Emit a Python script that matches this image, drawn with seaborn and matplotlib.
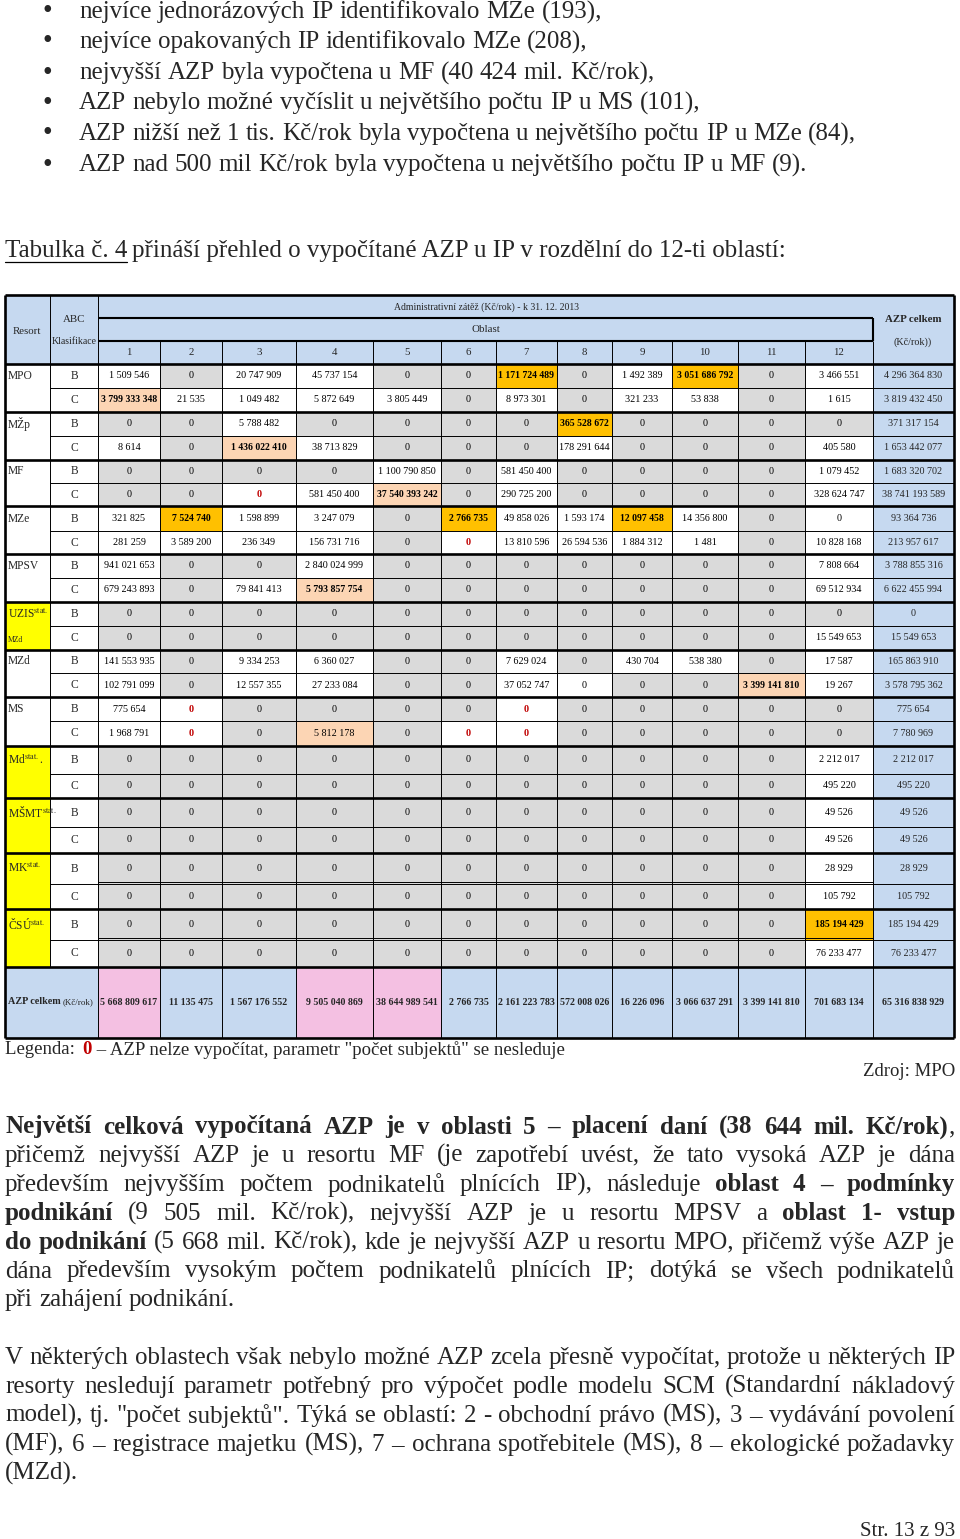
import numpy as np
import matplotlib.pyplot as plt
import seaborn as sns
from matplotlib.colors import ListedColormap
from matplotlib.lines import Line2D

sns.set_style("white")
plt.rcParams["font.family"] = ["Liberation Serif", "DejaVu Serif"]
plt.rcParams["mathtext.fontset"] = "stix"

W, H = 960, 1539

# %% data
resorts = ["MPO", "MŽp", "MF", "MZe", "MPSV", "UZIS", "MZd", "MS", "Md", "MŠMT", "MK", "ČSÚ"]
stat_resorts = ["UZIS", "Md", "MŠMT", "MK", "ČSÚ"]
klasifikace = ["B", "C"]
oblasti = ["1", "2", "3", "4", "5", "6", "7", "8", "9", "10", "11", "12"]

# AZP (Kč/rok), rows = B and C of every resort, columns = oblast 1..12
azp_values = [
    [1509546, 0, 20747909, 45737154, 0, 0, 1171724489, 0, 1492389, 3051686792, 0, 3466551],
    [3799333348, 21535, 1049482, 5872649, 3805449, 0, 8973301, 0, 321233, 53838, 0, 1615],
    [0, 0, 5788482, 0, 0, 0, 0, 365528672, 0, 0, 0, 0],
    [8614, 0, 1436022410, 38713829, 0, 0, 0, 178291644, 0, 0, 0, 405580],
    [0, 0, 0, 0, 1100790850, 0, 581450400, 0, 0, 0, 0, 1079452],
    [0, 0, 0, 581450400, 37540393242, 0, 290725200, 0, 0, 0, 0, 328624747],
    [321825, 7524740, 1598899, 3247079, 0, 2766735, 49858026, 1593174, 12097458, 14356800, 0, 0],
    [281259, 3589200, 236349, 156731716, 0, 0, 13810596, 26594536, 1884312, 1481, 0, 10828168],
    [941021653, 0, 0, 2840024999, 0, 0, 0, 0, 0, 0, 0, 7808664],
    [679243893, 0, 79841413, 5793857754, 0, 0, 0, 0, 0, 0, 0, 69512934],
    [0, 0, 0, 0, 0, 0, 0, 0, 0, 0, 0, 0],
    [0, 0, 0, 0, 0, 0, 0, 0, 0, 0, 0, 15549653],
    [141553935, 0, 9334253, 6360027, 0, 0, 7629024, 0, 430704, 538380, 0, 17587],
    [102791099, 0, 12557355, 27233084, 0, 0, 37052747, 0, 0, 0, 3399141810, 19267],
    [775654, 0, 0, 0, 0, 0, 0, 0, 0, 0, 0, 0],
    [1968791, 0, 0, 5812178, 0, 0, 0, 0, 0, 0, 0, 0],
    [0, 0, 0, 0, 0, 0, 0, 0, 0, 0, 0, 2212017],
    [0, 0, 0, 0, 0, 0, 0, 0, 0, 0, 0, 495220],
    [0, 0, 0, 0, 0, 0, 0, 0, 0, 0, 0, 49526],
    [0, 0, 0, 0, 0, 0, 0, 0, 0, 0, 0, 49526],
    [0, 0, 0, 0, 0, 0, 0, 0, 0, 0, 0, 28929],
    [0, 0, 0, 0, 0, 0, 0, 0, 0, 0, 0, 105792],
    [0, 0, 0, 0, 0, 0, 0, 0, 0, 0, 0, 185194429],
    [0, 0, 0, 0, 0, 0, 0, 0, 0, 0, 0, 76233477],
]
azp_row_totals = [4296364830, 3819432450, 371317154, 1653442077, 1683320702, 38741193589,
                  93364736, 213957617, 3788855316, 6622455994, 0, 15549653,
                  165863910, 3578795362, 775654, 7780969, 2212017, 495220,
                  49526, 49526, 28929, 105792, 185194429, 76233477]
azp_oblast_totals = [5668809617, 11135475, 1567176552, 9505040869, 38644989541, 2766735,
                     2161223783, 572008026, 16226096, 3066637291, 3399141810, 701683134]
azp_grand_total = 65316838929

# highlighted cells (row, oblast index)
gold_cells = [(0, 6), (0, 9), (2, 7), (6, 1), (6, 5), (6, 8), (22, 11)]
peach_bold_cells = [(1, 0), (3, 2), (5, 4), (9, 3), (13, 10)]
peach_cells = [(15, 3)]
red_zero_cells = [(5, 2), (7, 5), (14, 1), (14, 6), (15, 1), (15, 5), (15, 6)]
white_zero_cells = [(6, 11), (13, 7)]
pink_oblasti = [0, 3, 4]

# %% colour codes for the heatmap
palette = ["#ffffff", "#dadada", "#ffc000", "#fcd5b4", "#c6d9f0", "#ffff00", "#f4c0e2"]
n_body = len(azp_values)
codes = np.zeros((3 + n_body + 1, 15))
codes[:3, :] = 4
for r in range(n_body):
    res = resorts[r // 2]
    codes[3 + r, 0] = 5 if res in stat_resorts else 0
    codes[3 + r, 1] = 0
    for c, v in enumerate(azp_values[r]):
        code = 0 if v != 0 else 1
        if (r, c) in red_zero_cells or (r, c) in white_zero_cells:
            code = 0
        if (r, c) in gold_cells:
            code = 2
        if (r, c) in peach_bold_cells or (r, c) in peach_cells:
            code = 3
        codes[3 + r, 2 + c] = code
    codes[3 + r, 14] = 4
codes[-1, :] = 4
for c in pink_oblasti:
    codes[-1, 2 + c] = 6


def fmt(v):
    return f"{v:,}".replace(",", " ")


def fx(px):
    return px / W


def fy(py):
    return 1 - py / H


col_edges = [5, 50, 98, 160, 222, 296, 373, 441, 496, 557, 612, 672, 738, 805, 873, 954]
row_edges = [295, 318, 341, 364, 388, 412, 436, 460, 483, 506, 531, 554, 578, 602, 626,
             650, 673, 697, 721, 746, 774, 798, 827, 853, 884, 909, 940, 967, 1038]
xi = np.arange(len(col_edges))
yi = np.arange(len(row_edges))

fig = plt.figure(figsize=(9.6, 15.39), dpi=100)
ax = fig.add_axes([fx(col_edges[0]), fy(row_edges[-1]),
                   (col_edges[-1] - col_edges[0]) / W, (row_edges[-1] - row_edges[0]) / H])
ax.set_xscale("function", functions=(lambda v: np.interp(v, xi, col_edges),
                                     lambda p: np.interp(p, col_edges, xi)))
ax.set_yscale("function", functions=(lambda v: np.interp(v, yi, row_edges),
                                     lambda p: np.interp(p, row_edges, yi)))
sns.heatmap(codes, cmap=ListedColormap(palette), vmin=-0.5, vmax=len(palette) - 0.5,
            cbar=False, xticklabels=False, yticklabels=False, linewidths=0, ax=ax)
ax.set_xlim(0, 15)
ax.set_ylim(len(row_edges) - 1, 0)

# %% grid lines
thin, thick = 0.7, 1.9
kw = dict(colors="black", clip_on=False)
nr = len(row_edges) - 1
# header
ax.vlines([1, 2], 0, 3, lw=thin, **kw)
ax.hlines([1, 2], 2, 14, lw=thick * 0.8, **kw)
ax.vlines(14, 1, 2, lw=thick * 0.8, **kw)
ax.vlines(range(3, 15), 2, 3, lw=thin, **kw)
# body
ax.vlines(range(1, 15), 3, nr - 1, lw=thin, **kw)
for r in range(n_body):
    y = 3 + r
    if r % 2 == 0:
        ax.hlines(y, 0, 15, lw=thick, **kw)
    else:
        ax.hlines(y, 1, 15, lw=thin, **kw)
for r in [21, 23]:
    ax.hlines(3 + r - 0.08, 2, 14, lw=thin, **kw)
ax.hlines(nr - 1, 0, 15, lw=thick, **kw)
ax.vlines(range(2, 15), nr - 1, nr, lw=thin, **kw)
# outer frame
ax.hlines([0, nr], 0, 15, lw=thick, **kw)
ax.vlines([0, 15], 0, nr, lw=thick, **kw)

# %% header text
fs_head = 7.8
fig.text(fx(27), fy(331), "Resort", fontsize=fs_head, ha="center", va="center")
fig.text(fx(74), fy(319), "ABC", fontsize=fs_head, ha="center", va="center")
fig.text(fx(74), fy(342), "Klasifikace", fontsize=7, ha="center", va="center")
fig.text(fx(486), fy(307), "Administrativní zátěž (Kč/rok) - k 31. 12. 2013", fontsize=7,
         ha="center", va="center")
fig.text(fx(486), fy(330), "Oblast", fontsize=fs_head, ha="center", va="center")
fig.text(fx(913), fy(320), "AZP celkem", fontsize=7.8, fontweight="bold", ha="center", va="center")
fig.text(fx(913), fy(342), "(Kč/rok))", fontsize=7.3, ha="center", va="center")
for c, lab in enumerate(oblasti):
    ax.text(2 + c + 0.5, 2.5, lab, fontsize=fs_head, ha="center", va="center")

# %% body text
fs_num = 7.3
for r in range(n_body):
    y = 3 + r + 0.5
    res = resorts[r // 2]
    if r % 2 == 0:
        lab = res + r"$^{\mathrm{stat.}}$" if res in stat_resorts else res
        if res == "Md":
            lab += "."
        ax.text(0.06, y, lab, fontsize=8.3, ha="left", va="center")
    elif res == "UZIS":
        ax.text(0.06, y + 0.1, "MZd", fontsize=5.5, ha="left", va="center")
    ax.text(1.5, y, klasifikace[r % 2], fontsize=8.3, ha="center", va="center")
    for c, v in enumerate(azp_values[r]):
        bold = (r, c) in gold_cells or (r, c) in peach_bold_cells
        red = (r, c) in red_zero_cells
        ax.text(2 + c + 0.5, y, fmt(v), fontsize=7 if bold else fs_num, ha="center", va="center",
                fontweight="bold" if (bold or red) else "normal",
                color="#c00000" if red else "black")
    ax.text(14.5, y, fmt(azp_row_totals[r]), fontsize=fs_num, ha="center", va="center")

yt = nr - 0.5
fig.text(fx(61), fy(1002), "AZP celkem", fontsize=7.3, fontweight="bold", ha="right", va="center")
fig.text(fx(63), fy(1002), "(Kč/rok)", fontsize=6.5, ha="left", va="center")
for c, v in enumerate(azp_oblast_totals):
    ax.text(2 + c + 0.5, yt, fmt(v), fontsize=7.1, fontweight="bold", ha="center", va="center")
ax.text(14.5, yt, fmt(azp_grand_total), fontsize=7.1, fontweight="bold", ha="center", va="center")

# %% page text
renderer = fig.canvas.get_renderer()
body_fs = 18


def parse(line):
    words, bold = [], False
    for raw in line.split(" "):
        pieces, buf = [], ""
        for ch in raw:
            if ch == "*":
                if buf:
                    pieces.append((buf, bold))
                buf, bold = "", not bold
            else:
                buf += ch
        if buf:
            pieces.append((buf, bold))
        if pieces:
            words.append(pieces)
    return words


def write_line(line, y, x0=5, x1=955, size=body_fs, justify=True):
    words = parse(line)
    placed, widths = [], []
    for w in words:
        parts = []
        for text, b in w:
            t = fig.text(0, fy(y), text, fontsize=size, va="center", ha="left",
                         fontweight="bold" if b else "normal")
            parts.append((t, t.get_window_extent(renderer).width))
        placed.append(parts)
        widths.append(sum(p[1] for p in parts))
    gap = size * 100 / 72 * 0.25
    if justify and len(words) > 1:
        gap = max((x1 - x0 - sum(widths)) / (len(words) - 1), gap * 0.5)
    x = x0
    for parts in placed:
        for t, wd in parts:
            t.set_x(fx(x))
            x += wd
        x += gap


bullets = [
    "nejvíce jednorázových IP identifikovalo MZe (193),",
    "nejvíce opakovaných IP identifikovalo MZe (208),",
    "nejvyšší AZP byla vypočtena u MF (40 424 mil. Kč/rok),",
    "AZP nebylo možné vyčíslit u největšího počtu IP u MS (101),",
    "AZP nižší než 1 tis. Kč/rok byla vypočtena u největšího počtu IP u MZe (84),",
    "AZP nad 500 mil Kč/rok byla vypočtena u největšího počtu IP u MF (9).",
]
bullet_y = [12, 42, 73, 103, 134, 165]
for b, yb in zip(bullets, bullet_y):
    fig.text(fx(47), fy(yb), "•", fontsize=20, ha="center", va="center")
    write_line(b, yb, x0=79, justify=False)

t1 = fig.text(fx(5), fy(251), "Tabulka č. 4", fontsize=body_fs, ha="left", va="center")
w1 = t1.get_window_extent(renderer).width
fig.text(fx(5 + w1 + 5), fy(251), "přináší přehled o vypočítané AZP u IP v rozdělní do 12-ti oblastí:",
         fontsize=body_fs, ha="left", va="center")
fig.add_artist(Line2D([fx(5), fx(5 + w1)], [fy(262), fy(262)], color="black", lw=0.9))

# legend + source
leg_fs = 13.5
tl = fig.text(fx(5), fy(1050), "Legenda: ", fontsize=leg_fs, ha="left", va="center")
wl = tl.get_window_extent(renderer).width
tz = fig.text(fx(5 + wl + 3), fy(1050), "0", fontsize=leg_fs, fontweight="bold", color="#c00000",
              ha="left", va="center")
wz = tz.get_window_extent(renderer).width
fig.text(fx(5 + wl + 3 + wz), fy(1050), ' – AZP nelze vypočítat, parametr "počet subjektů" se nesleduje',
         fontsize=leg_fs, ha="left", va="center")
fig.text(fx(955), fy(1072), "Zdroj: MPO", fontsize=leg_fs, ha="right", va="center")

para1 = [
    "*Největší celková vypočítaná AZP je v oblasti 5 – placení daní (38 644 mil. Kč/rok)*,",
    "přičemž nejvyšší AZP je u resortu MF (je zapotřebí uvést, že tato vysoká AZP je dána",
    "především nejvyšším počtem podnikatelů plnících IP), následuje *oblast 4 – podmínky*",
    "*podnikání* (9 505 mil. Kč/rok), nejvyšší AZP je u resortu MPSV a *oblast 1- vstup*",
    "*do podnikání* (5 668 mil. Kč/rok), kde je nejvyšší AZP u resortu MPO, přičemž výše AZP je",
    "dána především vysokým počtem podnikatelů plnících IP; dotýká se všech podnikatelů",
    "při zahájení podnikání.",
]
for i, line in enumerate(para1):
    write_line(line, 1127 + i * 28.9, justify=i < len(para1) - 1)

para2 = [
    "V některých oblastech však nebylo možné AZP zcela přesně vypočítat, protože u některých IP",
    "resorty nesledují parametr potřebný pro výpočet podle modelu SCM (Standardní nákladový",
    'model), tj. "počet subjektů". Týká se oblastí: 2 - obchodní právo (MS), 3 – vydávání povolení',
    "(MF), 6 – registrace majetku (MS), 7 – ochrana spotřebitele (MS), 8 – ekologické požadavky",
    "(MZd).",
]
for i, line in enumerate(para2):
    write_line(line, 1358 + i * 28.9, justify=i < len(para2) - 1)

fig.text(fx(955), fy(1531), "Str. 13 z 93", fontsize=15, ha="right", va="center")

fig.savefig("out.png", dpi=100)
